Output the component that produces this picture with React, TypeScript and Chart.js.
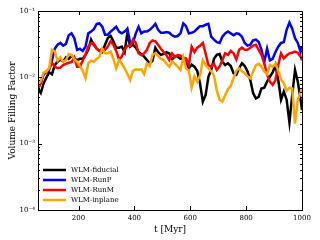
import React, { useEffect, useRef } from "react";
import { Chart, registerables } from "chart.js";

Chart.register(...registerables);

const times = [55,65,75,85,95,105,115,125,135,145,155,165,175,185,195,205,215,225,235,245,255,265,275,285,295,305,315,325,335,345,355,365,375,385,395,405,415,425,435,445,455,465,475,485,495,505,515,525,535,545,555,565,575,585,595,605,615,625,635,645,655,665,675,685,695,705,715,725,735,745,755,765,775,785,795,805,815,825,835,845,855,865,875,885,895,905,915,925,935,945,955,965,975,985,995,1000];

const fiducial = [0.0068,0.0058,0.0081,0.0099,0.0119,0.0111,0.0153,0.0172,0.0186,0.0172,0.020,0.019,0.021,0.019,0.0182,0.019,0.019,0.0218,0.026,0.037,0.031,0.027,0.025,0.024,0.031,0.039,0.042,0.035,0.028,0.028,0.029,0.024,0.047,0.029,0.031,0.028,0.024,0.0225,0.0205,0.0182,0.0163,0.0178,0.028,0.024,0.0218,0.0225,0.024,0.023,0.0186,0.021,0.0205,0.019,0.019,0.0166,0.0137,0.0155,0.0145,0.0125,0.0081,0.0043,0.0054,0.0102,0.0129,0.019,0.0218,0.0225,0.0172,0.0153,0.0163,0.0148,0.0115,0.0109,0.0137,0.0163,0.0148,0.0123,0.0091,0.0058,0.0048,0.0051,0.0068,0.007,0.0086,0.0102,0.0119,0.0153,0.0091,0.0046,0.0061,0.0046,0.0021,0.0054,0.0129,0.0086,0.0046,0.0032];

const runP = [0.0071,0.0083,0.011,0.0122,0.0129,0.018,0.027,0.031,0.033,0.030,0.032,0.043,0.046,0.039,0.026,0.027,0.025,0.029,0.046,0.049,0.053,0.064,0.065,0.058,0.044,0.044,0.049,0.053,0.058,0.049,0.046,0.049,0.054,0.033,0.033,0.046,0.058,0.046,0.049,0.049,0.052,0.057,0.064,0.052,0.047,0.047,0.048,0.047,0.043,0.041,0.042,0.046,0.065,0.059,0.046,0.047,0.049,0.054,0.059,0.059,0.062,0.064,0.041,0.037,0.034,0.033,0.041,0.046,0.049,0.046,0.043,0.046,0.045,0.041,0.033,0.030,0.031,0.036,0.037,0.034,0.026,0.017,0.027,0.018,0.019,0.024,0.029,0.033,0.034,0.052,0.067,0.054,0.039,0.033,0.024,0.029];

const runM = [0.0066,0.0081,0.0115,0.012,0.0137,0.0166,0.0145,0.0137,0.014,0.0153,0.016,0.0166,0.017,0.020,0.0145,0.0145,0.0178,0.0218,0.029,0.033,0.032,0.027,0.025,0.027,0.026,0.029,0.035,0.031,0.025,0.0186,0.0205,0.026,0.030,0.030,0.037,0.033,0.023,0.0215,0.023,0.026,0.033,0.036,0.035,0.031,0.027,0.024,0.0215,0.0182,0.0228,0.020,0.0218,0.0213,0.020,0.0193,0.0153,0.029,0.024,0.028,0.030,0.033,0.023,0.0153,0.0145,0.016,0.0129,0.0145,0.0182,0.023,0.0218,0.025,0.023,0.0186,0.026,0.028,0.026,0.026,0.028,0.030,0.031,0.026,0.0218,0.0163,0.011,0.0086,0.0077,0.0091,0.0153,0.023,0.0193,0.0213,0.023,0.0235,0.0245,0.0235,0.0205,0.018];

const inplane = [0.0077,0.0089,0.0118,0.0123,0.0137,0.026,0.0245,0.0178,0.020,0.0172,0.0182,0.0225,0.0218,0.0186,0.0172,0.0148,0.0125,0.0097,0.0163,0.0178,0.0172,0.019,0.0205,0.027,0.023,0.023,0.0245,0.019,0.0137,0.0182,0.016,0.0137,0.0112,0.0091,0.0125,0.0132,0.013,0.0132,0.0112,0.0163,0.0148,0.0218,0.023,0.021,0.019,0.0182,0.016,0.0145,0.0172,0.016,0.0145,0.0129,0.020,0.0137,0.0125,0.007,0.0104,0.0086,0.0107,0.0182,0.0153,0.0137,0.0123,0.0107,0.0063,0.0046,0.0043,0.0054,0.0066,0.0074,0.0097,0.0125,0.0137,0.0123,0.0115,0.0104,0.0097,0.0123,0.0153,0.016,0.0145,0.0123,0.0112,0.0153,0.0145,0.016,0.0125,0.0093,0.0081,0.0063,0.007,0.0068,0.002,0.0046,0.0059,0.0066];

const seriesNames = ["WLM-fiducial", "WLM-RunP", "WLM-RunM", "WLM-inplane"];
const seriesColors = ["#000000", "#0000ff", "#ff0000", "#ffa500"];
const xTicks = [200, 400, 600, 800, 1000];
const xTickLabels = ["200", "400", "600", "800", "1000"];
const yTicks = [1e-4, 1e-3, 1e-2, 1e-1];
const yTickLabels = ["10\u207B\u2074", "10\u207B\u00B3", "10\u207B\u00B2", "10\u207B\u00B9"];

const FONT = "'DejaVu Serif', serif";

const framePlugin = {
  id: "frameTicks",
  afterDatasetsDraw(chart: any) {
    const { ctx, chartArea } = chart;
    const { left, right, top, bottom } = chartArea;
    const xs = chart.scales.x;
    const ys = chart.scales.y;
    ctx.save();
    ctx.strokeStyle = "#000";
    ctx.lineWidth = 1;
    ctx.strokeRect(Math.round(left) + 0.5, Math.round(top) + 0.5, Math.round(right - left), Math.round(bottom - top));
    ctx.beginPath();
    xTicks.forEach((v) => {
      const px = Math.round(xs.getPixelForValue(v)) + 0.5;
      ctx.moveTo(px, bottom); ctx.lineTo(px, bottom - 4);
      ctx.moveTo(px, top); ctx.lineTo(px, top + 4);
    });
    yTicks.forEach((v) => {
      const py = Math.round(ys.getPixelForValue(v)) + 0.5;
      ctx.moveTo(left, py); ctx.lineTo(left + 4, py);
      ctx.moveTo(right, py); ctx.lineTo(right - 4, py);
    });
    for (let d = 0; d < yTicks.length - 1; d++) {
      for (let k = 2; k <= 9; k++) {
        const py = Math.round(ys.getPixelForValue(yTicks[d] * k)) + 0.5;
        ctx.moveTo(left, py); ctx.lineTo(left + 2, py);
        ctx.moveTo(right, py); ctx.lineTo(right - 2, py);
      }
    }
    ctx.stroke();
    // legend
    ctx.font = "7px " + FONT;
    ctx.textBaseline = "middle";
    ctx.textAlign = "left";
    seriesNames.forEach((name, i) => {
      const y = 170 + i * 10;
      ctx.strokeStyle = seriesColors[i];
      ctx.lineWidth = 2.5;
      ctx.beginPath();
      ctx.moveTo(43, y); ctx.lineTo(66, y);
      ctx.stroke();
      ctx.fillStyle = "#000";
      ctx.fillText(name, 71, y);
    });
    ctx.restore();
  },
};

export default function App() {
  const ref = useRef<HTMLCanvasElement>(null);
  useEffect(() => {
    document.body.style.margin = "0";
    const seriesData = [fiducial, runP, runM, inplane];
    const chart = new Chart(ref.current!, {
      type: "line",
      data: {
        labels: times,
        datasets: seriesData.map((arr, i) => ({
          label: seriesNames[i],
          data: arr.map((v, j) => ({ x: times[j], y: v })),
          borderColor: seriesColors[i],
          borderWidth: 2.5,
          pointRadius: 0,
          tension: 0,
          fill: false,
          order: 4 - i,
        })),
      },
      options: {
        responsive: false,
        animation: false,
        devicePixelRatio: 1,
        layout: { padding: { top: 11, right: 18, left: 0, bottom: 0 } },
        plugins: { legend: { display: false }, tooltip: { enabled: false } },
        scales: {
          x: {
            type: "linear",
            min: 55,
            max: 1000,
            grid: { display: false, drawTicks: false },
            border: { display: false },
            afterBuildTicks: (s: any) => { s.ticks = xTicks.map((v) => ({ value: v })); },
            afterFit: (s: any) => { s.height = 30; },
            ticks: {
              color: "#000",
              font: { family: FONT, size: 7 },
              padding: 4,
              maxRotation: 0,
              autoSkip: false,
              callback: (v: any) => {
                const idx = xTicks.indexOf(Number(v));
                return idx >= 0 ? xTickLabels[idx] : "";
              },
            },
            title: { display: true, text: "t [Myr]", color: "#000", font: { family: FONT, size: 9 }, padding: { top: 1, bottom: 5 } },
          },
          y: {
            type: "logarithmic",
            min: 1e-4,
            max: 1e-1,
            grid: { display: false, drawTicks: false },
            border: { display: false },
            afterBuildTicks: (s: any) => { s.ticks = yTicks.map((v) => ({ value: v })); },
            afterFit: (s: any) => { s.width = 38; },
            ticks: {
              color: "#000",
              font: { family: FONT, size: 7 },
              padding: 3,
              autoSkip: false,
              callback: (v: any) => {
                const idx = yTicks.findIndex((t) => Math.abs(Math.log10(t) - Math.log10(Number(v))) < 1e-6);
                return idx >= 0 ? yTickLabels[idx] : "";
              },
            },
            title: { display: true, text: "Volume Filling Factor", color: "#000", font: { family: FONT, size: 9 }, padding: { top: 7, bottom: 0 } },
          },
        },
      },
      plugins: [framePlugin],
    } as any);
    return () => chart.destroy();
  }, []);
  return (
    <div style={{ position: "fixed", left: 0, top: 0, width: 320, height: 240, background: "#fff" }}>
      <canvas ref={ref} width={320} height={240} style={{ width: 320, height: 240, display: "block" }} />
    </div>
  );
}
